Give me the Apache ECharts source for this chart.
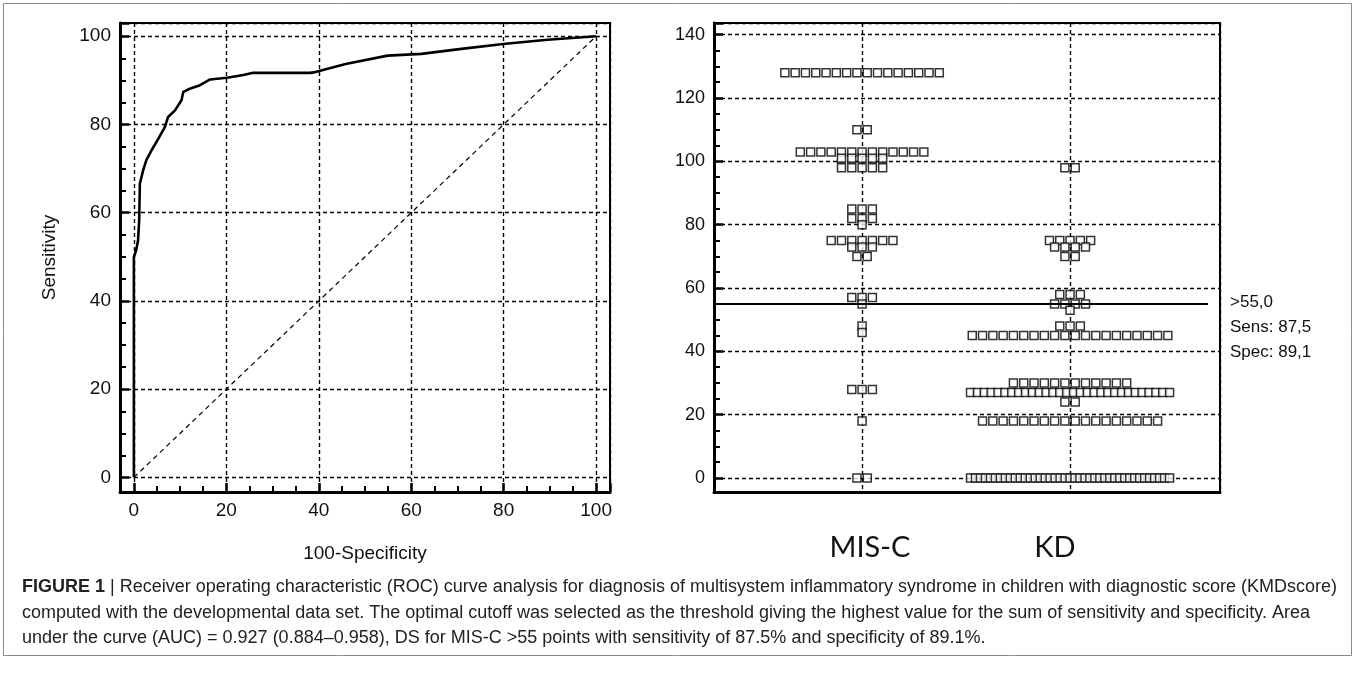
<!DOCTYPE html>
<html><head><meta charset="utf-8">
<script src="https://cdn.jsdelivr.net/npm/echarts@6/dist/echarts.min.js"></script>
<style>html,body{margin:0;padding:0;background:#fff}#c{width:1355px;height:676px}</style>
</head><body><div id="c"></div>
<script>
// ---- ROC curve (left panel) ----
const rocX = [0, 0, 0.5, 0.9, 1.15, 1.3, 2.0, 2.7, 3.8, 5.3, 6.7, 7.4, 8.9, 10.3, 10.7, 12.1, 14.3, 16.5, 20.1, 23.7, 25.8, 38.1, 38.9, 40.3, 45.8, 54.9, 62.2, 71.3, 80.4, 89.5, 100];
const rocY = [0, 50, 51.5, 53.7, 58.3, 66.6, 69.6, 71.9, 74.1, 76.8, 79.4, 81.7, 83.2, 85.5, 87.4, 88.1, 88.9, 90.2, 90.6, 91.2, 91.7, 91.7, 91.8, 92.2, 93.7, 95.6, 96.0, 97.2, 98.3, 99.2, 100];
const diagX = [0, 100];
const diagY = [0, 100];
const rocXName = '100-Specificity';
const rocYName = 'Sensitivity';

// ---- Dot plot (right panel) ----
const groups = ['MIS-C', 'KD'];
const miscValues = [128, 110, 103, 101, 98, 85, 82, 80, 75, 73, 70, 57, 55, 48, 46, 28, 18, 0];
const miscCounts = [16, 2, 13, 5, 5, 3, 3, 1, 7, 3, 2, 3, 1, 1, 1, 3, 1, 2];
const kdValues = [98, 75, 73, 70, 58, 55, 53, 48, 45, 30, 27, 24, 18, 0];
const kdCounts = [2, 5, 4, 2, 3, 4, 1, 3, 20, 12, 30, 2, 18, 41];
const cutoff = 55;
const cutoffLabels = ['>55,0', 'Sens: 87,5', 'Spec: 89,1'];

const captionBold = 'FIGURE 1';
const captionLines = [
  ' | Receiver operating characteristic (ROC) curve analysis for diagnosis of multisystem inflammatory syndrome in children with diagnostic score (KMDscore)',
  'computed with the developmental data set. The optimal cutoff was selected as the threshold giving the highest value for the sum of sensitivity and specificity. Area',
  'under the curve (AUC) = 0.927 (0.884\u20130.958), DS for MIS-C >55 points with sensitivity of 87.5% and specificity of 89.1%.'
];

// layout constants (style only)
const PITCH = 0.0495, SPAN = 0.957;
function swarm(center, values, counts) {
  const pts = [];
  values.forEach((v, i) => {
    const n = counts[i];
    const p = n > 1 ? Math.min(PITCH, SPAN / (n - 1)) : 0;
    for (let k = 0; k < n; k++) pts.push([center + (k - (n - 1) / 2) * p, v]);
  });
  return pts;
}

const F = 'Liberation Sans, Arial, sans-serif';
const FN = 'Liberation Sans Narrow, Liberation Sans, Arial, sans-serif';
const grid = { lineStyle: { type: [4, 3], color: '#000', width: 1.4 } };
const axLine = { onZero: false, lineStyle: { color: '#000', width: 3 } };
const tick = { inside: true, length: 9, lineStyle: { color: '#000', width: 2.5 } };
const minor = { show: true, splitNumber: 4, length: 6, lineStyle: { color: '#000', width: 2 } };

const chart = echarts.init(document.getElementById('c'), null, { renderer: 'canvas' });
const xMin2 = 0.288, xMax2 = 2.721;
chart.setOption({
  animation: false,
  backgroundColor: '#fff',
  grid: [
    { left: 120, top: 23, width: 490, height: 469, show: true, borderColor: '#000', borderWidth: 2 },
    { left: 714, top: 23, width: 506, height: 469, show: true, borderColor: '#000', borderWidth: 2 }
  ],
  xAxis: [
    { type: 'value', gridIndex: 0, min: -3, max: 103, splitNumber: 5, minInterval: 20, maxInterval: 20,
      axisLine: axLine, axisTick: tick, minorTick: minor, splitLine: Object.assign({ show: true }, grid),
      axisLabel: { color: '#111', fontSize: 19, fontFamily: F, margin: 9, showMinLabel: false, showMaxLabel: false },
      name: rocXName, nameLocation: 'middle', nameGap: 52, nameTextStyle: { color: '#111', fontSize: 19, fontFamily: F } },
    { type: 'value', gridIndex: 1, min: xMin2, max: xMax2, splitNumber: 2, minInterval: 1, maxInterval: 1,
      axisLine: axLine, axisTick: { show: false }, axisLabel: { show: false },
      splitLine: Object.assign({ show: true }, grid) }
  ],
  yAxis: [
    { type: 'value', gridIndex: 0, min: -3.3, max: 103, splitNumber: 5, minInterval: 20, maxInterval: 20,
      axisLine: axLine, axisTick: tick, minorTick: minor, splitLine: Object.assign({ show: true }, grid),
      axisLabel: { color: '#111', fontSize: 19, fontFamily: F, margin: 9, showMinLabel: false, showMaxLabel: false },
      name: rocYName, nameLocation: 'middle', nameGap: 61, nameRotate: 90, nameTextStyle: { color: '#111', fontSize: 19, fontFamily: F } },
    { type: 'value', gridIndex: 1, min: -4.4, max: 143.7, splitNumber: 7, minInterval: 20, maxInterval: 20,
      axisLine: axLine, axisTick: tick, minorTick: minor, splitLine: Object.assign({ show: true }, grid),
      axisLabel: { color: '#111', fontSize: 18, fontFamily: FN, margin: 9, showMinLabel: false, showMaxLabel: false } }
  ],
  series: [
    { type: 'line', xAxisIndex: 0, yAxisIndex: 0, data: diagX.map((x, i) => [x, diagY[i]]), symbol: 'none',
      lineStyle: { color: '#000', width: 1.2, type: [5, 4] }, z: 3 },
    { type: 'line', xAxisIndex: 0, yAxisIndex: 0, data: rocX.map((x, i) => [x, rocY[i]]), symbol: 'none',
      lineStyle: { color: '#000', width: 2.6 }, z: 4 },
    { type: 'scatter', xAxisIndex: 1, yAxisIndex: 1, data: swarm(1, miscValues, miscCounts), symbol: 'rect', symbolSize: 8,
      itemStyle: { color: '#fff', borderColor: '#000', borderWidth: 1.5 }, z: 3 },
    { type: 'scatter', xAxisIndex: 1, yAxisIndex: 1, data: swarm(2, kdValues, kdCounts), symbol: 'rect', symbolSize: 8,
      itemStyle: { color: '#fff', borderColor: '#000', borderWidth: 1.5 }, z: 3 },
    { type: 'line', xAxisIndex: 1, yAxisIndex: 1, data: [[xMin2, cutoff], [2.663, cutoff]], symbol: 'none',
      lineStyle: { color: '#000', width: 2 }, z: 5 }
  ],
  graphic: [
    { type: 'rect', shape: { x: 3.5, y: 3.5, width: 1348, height: 652 }, style: { fill: 'none', stroke: '#8a8a8a', lineWidth: 1 }, z: -1 },
    { type: 'text', x: 870, y: 548, style: { text: groups[0], fontFamily: 'Lato, sans-serif', fontSize: 29, fill: '#111', textAlign: 'center', textVerticalAlign: 'middle' } },
    { type: 'text', x: 1055, y: 548, style: { text: groups[1], fontFamily: 'Lato, sans-serif', fontSize: 29, fill: '#111', textAlign: 'center', textVerticalAlign: 'middle' } },
    { type: 'text', x: 1230, y: 302, style: { text: cutoffLabels[0], fontFamily: F, fontSize: 17, fill: '#111', textVerticalAlign: 'middle' } },
    { type: 'text', x: 1230, y: 327, style: { text: cutoffLabels[1], fontFamily: F, fontSize: 17, fill: '#111', textVerticalAlign: 'middle' } },
    { type: 'text', x: 1230, y: 352, style: { text: cutoffLabels[2], fontFamily: F, fontSize: 17, fill: '#111', textVerticalAlign: 'middle' } },
    { type: 'text', x: 22, y: 587, style: { text: '{b|' + captionBold + '}{r|' + captionLines[0] + '}', textVerticalAlign: 'middle',
        rich: { b: { fontFamily: F, fontWeight: 'bold', fontSize: 18, fill: '#222' }, r: { fontFamily: F, fontSize: 18, fill: '#222' } } } },
    { type: 'text', x: 22, y: 613, style: { text: captionLines[1], fontFamily: F, fontSize: 18, fill: '#222', textVerticalAlign: 'middle' } },
    { type: 'text', x: 22, y: 638, style: { text: captionLines[2], fontFamily: F, fontSize: 18, fill: '#222', textVerticalAlign: 'middle' } }
  ]
});
</script></body></html>
